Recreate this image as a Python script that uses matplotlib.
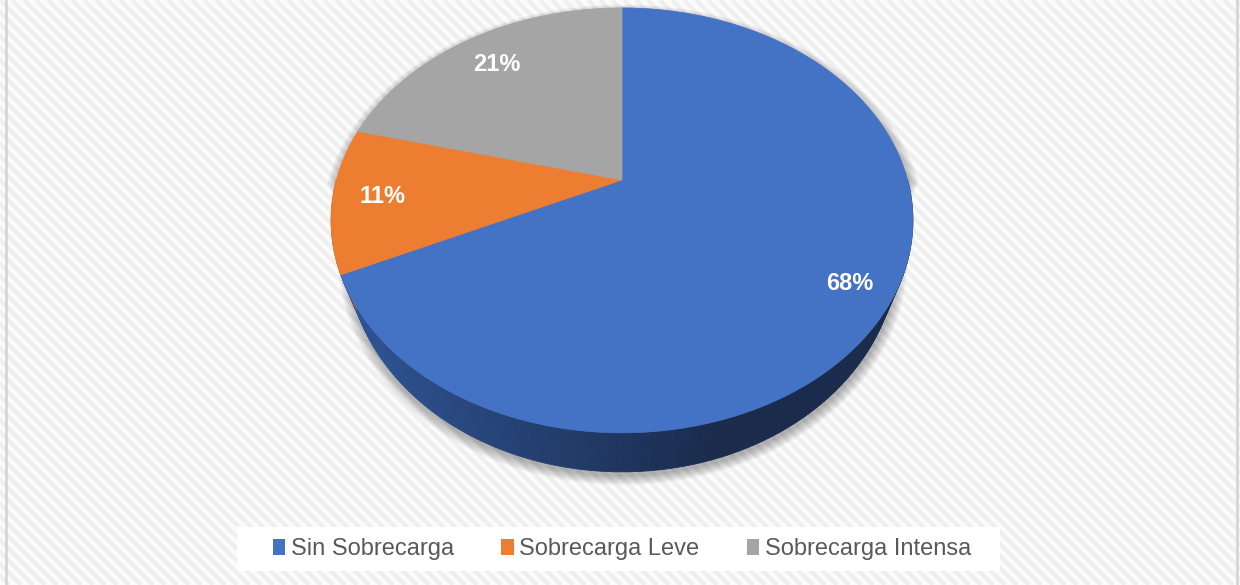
"""3D-style pie chart: nivel de sobrecarga."""

import numpy as np
import matplotlib

matplotlib.use("Agg")
import matplotlib.pyplot as plt
from matplotlib.collections import LineCollection
from matplotlib.colors import to_rgb
from matplotlib.patches import Patch, Rectangle

categories = ["Sin Sobrecarga", "Sobrecarga Leve", "Sobrecarga Intensa"]
shares = [68, 11, 21]
top_colors = ["#4472c4", "#ed7d31", "#a5a5a5"]
side_colors = [("#2f5596", "#1a2b4c"), ("#b85d22", "#8f4515"), ("#7c7c7c", "#5a5a5a")]
label_radius = [0.86, 0.83, 0.80]

# pie geometry in pixel units (figure is 1240 x 585)
CX, CY = 622, 180
RX, RY = 285.6, 204.8
K = 0.19          # perspective strength
DEPTH = 31.6      # thickness of the pie
SHRINK = 0.945    # bottom face is a bit narrower (camera looks down)


def project(theta, r=1.0, bottom=False):
    """Map angle (deg, clockwise from 12 o'clock) on the pie to pixels."""
    t = np.radians(theta)
    x = r * np.sin(t)
    y = r * np.cos(t)
    w = 1.0 / (1.0 + K * y)
    px = RX * x * w
    py = CY - RY * y * w
    if bottom:
        return CX + px * SHRINK, py + DEPTH * w
    return CX + px, py


def mix(c0, c1, t):
    a, b = np.array(to_rgb(c0)), np.array(to_rgb(c1))
    return tuple(a + (b - a) * t)


plt.rcParams["font.family"] = ["Liberation Sans", "DejaVu Sans"]

fig = plt.figure(figsize=(12.4, 5.85), dpi=100, facecolor="#fbfbfb")
ax = fig.add_axes([0, 0, 1, 1])
ax.set_xlim(0, 1240)
ax.set_ylim(585, 0)
ax.axis("off")

# striped background
starts = np.arange(-600, 1240, 12)
stripes = [[(s, 0), (s + 585, 585)] for s in starts]
ax.add_collection(LineCollection(stripes, colors="#efefef", linewidths=3.0, zorder=0))
for xb in (6, 1237):
    ax.axvline(xb, color="#d6d6d6", linewidth=2, zorder=1)

# soft shadow below the pie
back = np.linspace(-90, 90, 120)
front = np.linspace(90, 270, 120)
bx, by = project(back)
fx, fy = project(front, bottom=True)
sx = np.concatenate([bx, fx])
sy = np.concatenate([by, fy])
mx, my = sx.mean(), sy.mean()
for i in range(10):
    s = 1.0 + 0.004 * i
    ax.fill(mx + (sx - mx) * s + 1, my + (sy - my) * s + 4,
            color="black", alpha=0.03, linewidth=0, zorder=2)

# slices: side walls then top faces
bounds = np.concatenate([[0], np.cumsum(shares)]) * 3.6
x_lo, x_hi = CX - RX, CX + RX
for i, (a, b) in enumerate(zip(bounds[:-1], bounds[1:])):
    lo, hi = max(a, 90), min(b, 270)
    if hi > lo:
        th = np.linspace(lo, hi, max(int(hi - lo), 2) + 1)
        for t0, t1 in zip(th[:-1], th[1:]):
            x0, y0 = project(t0)
            x1, y1 = project(t1)
            x2, y2 = project(t1, bottom=True)
            x3, y3 = project(t0, bottom=True)
            tt = np.clip(((x0 + x1) / 2 - x_lo) / (x_hi - x_lo) * 1.5, 0, 1)
            ax.fill([x0, x1, x2, x3], [y0, y1, y2, y3],
                    color=mix(*side_colors[i], tt), linewidth=0.6,
                    edgecolor=mix(*side_colors[i], tt), zorder=3)

for i, (a, b) in enumerate(zip(bounds[:-1], bounds[1:])):
    th = np.linspace(a, b, int(b - a) * 2 + 2)
    px, py = project(th)
    ax.fill(np.concatenate([[CX], px]), np.concatenate([[CY], py]),
            color=top_colors[i], edgecolor=top_colors[i], linewidth=0.5, zorder=4)
    lx, ly = project((a + b) / 2, r=label_radius[i])
    ax.text(lx, ly, f"{shares[i]}%", color="white", fontsize=17,
            fontweight="bold", ha="center", va="center", zorder=5)

# legend
ax.add_patch(Rectangle((237, 527), 763, 44, facecolor="white",
                       edgecolor="none", zorder=5))
handles = [Patch(facecolor=c, edgecolor="none") for c in top_colors]
leg = ax.legend(handles, categories, loc="center", ncol=3,
                bbox_to_anchor=(622 / 1240, 1 - 549 / 585), frameon=False,
                fontsize=17, labelcolor="#595959", handlelength=0.52,
                handleheight=0.65, handletextpad=0.25, columnspacing=2.0)
leg.set_zorder(6)

fig.savefig("out.png", dpi=100)
